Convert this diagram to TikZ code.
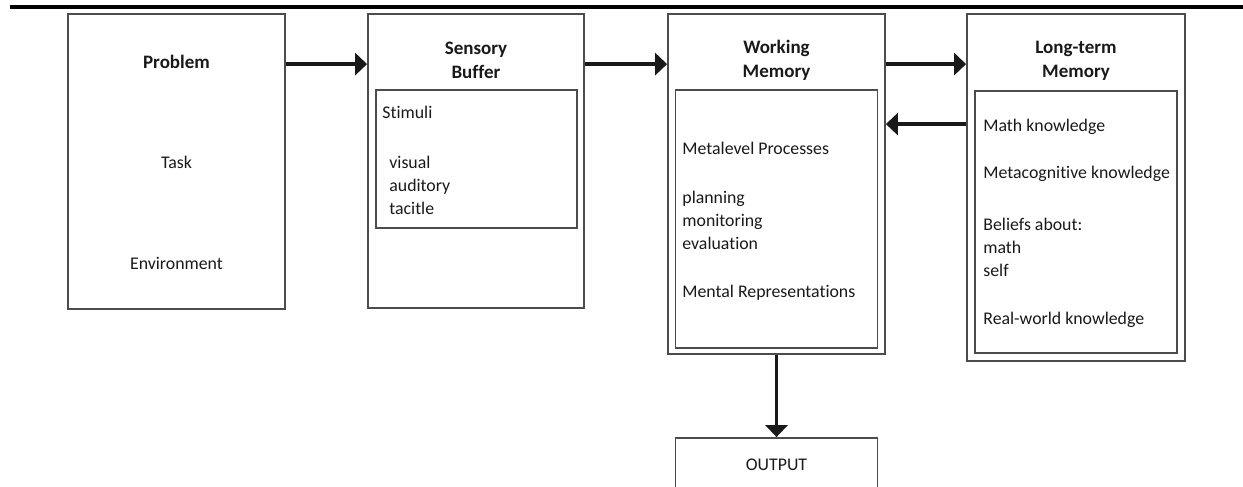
\documentclass[tikz,border=0pt]{standalone}
\usepackage{fontspec}
\setmainfont{Carlito}[Ligatures=NoCommon]
\usetikzlibrary{arrows.meta}

\begin{document}
\begin{tikzpicture}[x=0.5pt, y=-0.5pt,
	box/.style={rectangle, draw=black!70, line width=0.9pt, inner sep=0pt, text=black!90, font=\fontsize{8.9}{11.5}\selectfont},
	title/.style={rectangle, draw=none, align=center, inner sep=0pt, text=black!90, font=\fontsize{9.5}{12}\selectfont\bfseries},
	label/.style={rectangle, draw=none, inner sep=0pt, text=black!90, font=\fontsize{8.9}{11.5}\selectfont},
	item/.style={label, align=left, anchor=west},
	arr/.style={draw=black!90, line width=1.7pt, -{Triangle[length=6pt, width=11pt]}}]
			\useasboundingbox (0,0) rectangle (1243,487);
			\clip (0,0) rectangle (1243,487);
			\fill[black] (10,4.5) rectangle (1243,8.5);
			
			\node[box, minimum width=108.5pt, minimum height=147.5pt] (problem) at (176.5,161.5){};
			\node[box, minimum width=108pt, minimum height=147pt] (buffer) at (476,161){};
			\node[box, minimum width=100.5pt, minimum height=69pt] (stimuli) at (476.5,159){};
			\node[box, minimum width=108.5pt, minimum height=170pt] (working) at (776.5,184){};
			\node[box, minimum width=101pt, minimum height=129pt] (processes) at (776.5,219){};
			\node[box, minimum width=109pt, minimum height=173.5pt] (longterm) at (1076,187.5){};
			\node[box, minimum width=101pt, minimum height=131pt] (knowledge) at (1076,222){};
			\node[box, minimum width=101pt, minimum height=27pt] (output) at (776.5,465){OUTPUT};
			
			\node[title] (problemtitle) at (176.5,62){Problem};
			\node[label] (task) at (176.5,162){Task};
			\node[label] (environment) at (176.5,263){Environment};
			
			\node[title] (buffertitle) at (476,60.5){Sensory\\Buffer};
			\node[item] (stimulitext) at (382,112){Stimuli};
			\node[item] (senses) at (389,185){visual\\auditory\\tacitle};
			
			\node[title] (workingtitle) at (776.5,60.5){Working\\Memory};
			\node[item] (metalevel) at (682,148){Metalevel Processes};
			\node[item] (planning) at (682,220){planning\\monitoring\\evaluation};
			\node[item] (mental) at (682,293){Mental Representations};
			
			\node[title] (longtermtitle) at (1076,60.5){Long-term\\Memory};
			\node[item] (math) at (983,127){Math knowledge};
			\node[item] (metacog) at (983,174){Metacognitive knowledge};
			\node[item] (beliefs) at (983,247){Beliefs about:\\math\\self};
			\node[item] (realworld) at (983,320){Real-world knowledge};
			
			\draw[arr] ([yshift=-25.5pt]problem.north east) -- ([yshift=-25.5pt]buffer.north west);
			\draw[arr] ([yshift=-25.5pt]buffer.north east) -- ([yshift=-25.5pt]working.north west);
			\draw[arr] ([yshift=-25.5pt]working.north east) -- ([yshift=-25.5pt]longterm.north west);
			\draw[arr] ([yshift=-55.5pt]longterm.north west) -- ([yshift=-55.5pt]working.north east);
			\draw[arr] (working.south) -- (output.north);
\end{tikzpicture}
\end{document}
